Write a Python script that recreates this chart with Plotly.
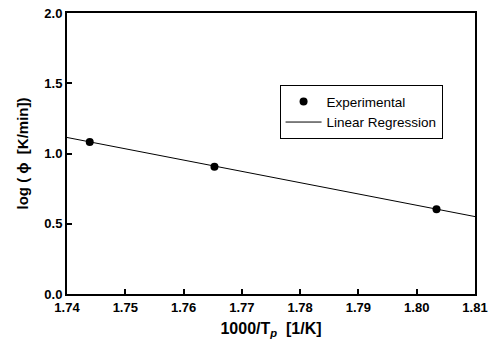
import plotly.graph_objects as go

exp_x = [1.7439, 1.7653, 1.8034]
exp_y = [1.082, 0.906, 0.603]
reg_x = [1.74, 1.81]
reg_y = [1.114, 0.551]
x_ticks = [1.74, 1.75, 1.76, 1.77, 1.78, 1.79, 1.80, 1.81]
x_tick_text = ["1.74", "1.75", "1.76", "1.77", "1.78", "1.79", "1.80", "1.81"]
y_ticks = [0.0, 0.5, 1.0, 1.5, 2.0]
y_tick_text = ["0.0", "0.5", "1.0", "1.5", "2.0"]

FONT = "Liberation Sans, Arial, sans-serif"

fig = go.Figure()
fig.add_trace(go.Scatter(x=exp_x, y=exp_y, mode="markers", name="Experimental",
                         marker=dict(color="black", size=8)))
fig.add_trace(go.Scatter(x=reg_x, y=reg_y, mode="lines", name="Linear Regression",
                         line=dict(color="black", width=1)))

axis_common = dict(showline=True, linecolor="black", linewidth=2, mirror=True,
                   ticks="inside", ticklen=5, tickwidth=2, tickcolor="black",
                   showgrid=False, zeroline=False,
                   tickfont=dict(family=FONT, size=13, color="black", weight="bold"))

fig.update_layout(
    width=493, height=347,
    margin=dict(l=67, r=18, t=13, b=53, autoexpand=False),
    plot_bgcolor="white", paper_bgcolor="white",
    showlegend=True,
    legend=dict(x=0.521, y=0.743, xanchor="left", yanchor="top",
                bordercolor="black", borderwidth=1, bgcolor="white",
                font=dict(family=FONT, size=13.5, color="black"),
                tracegroupgap=0, itemwidth=36),
    xaxis=dict(range=[1.74, 1.81], tickvals=x_ticks, ticktext=x_tick_text,
               title=dict(text="1000/T<sub><i>p</i></sub>  [1/K]", standoff=9,
                          font=dict(family=FONT, size=16, color="black", weight="bold")),
               **axis_common),
    yaxis=dict(range=[0, 2.0], tickvals=y_ticks, ticktext=y_tick_text,
               title=dict(text="log ( ϕ  [K/min])", standoff=12,
                          font=dict(family=FONT, size=15, color="black", weight="bold")),
               **axis_common),
)

fig.write_html("out.html", config={"displayModeBar": False},
               post_script="document.body.style.margin='0';")
